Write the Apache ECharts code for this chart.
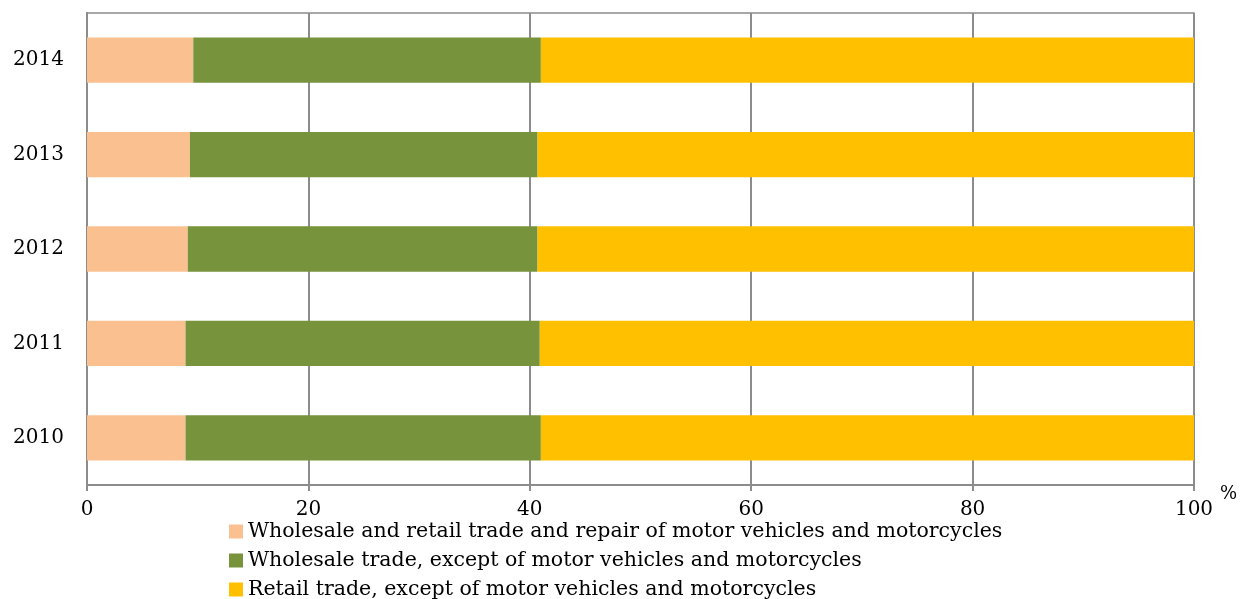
<!DOCTYPE html>
<html><head><meta charset="utf-8">
<script src="https://cdn.jsdelivr.net/npm/echarts@6/dist/echarts.min.js"></script>
<style>html,body{margin:0;padding:0;background:#fff}#c{width:1241px;height:599px}</style>
</head><body><div id="c"></div>
<script>
const years = ['2010', '2011', '2012', '2013', '2014'];
const seriesNames = [
  'Wholesale and retail trade and repair of motor vehicles and motorcycles',
  'Wholesale trade, except of motor vehicles and motorcycles',
  'Retail trade, except of motor vehicles and motorcycles'
];
const repairMotor = [8.9, 8.9, 9.1, 9.3, 9.6];
const wholesale = [32.1, 32.0, 31.6, 31.4, 31.4];
const retail = [59.0, 59.1, 59.3, 59.3, 59.0];
const xTicks = [0, 20, 40, 60, 80, 100];
const colors = ['#FAC090', '#77933C', '#FFC000'];

const font = 'DejaVu Serif';
const chart = echarts.init(document.getElementById('c'), null, {renderer: 'canvas'});
const values = [repairMotor, wholesale, retail];
chart.setOption({
  animation: false,
  color: colors,
  grid: {left: 87, right: 47, top: 13, bottom: 114, show: true, borderColor: '#8c8c8c', borderWidth: 1.5, containLabel: false},
  xAxis: {
    type: 'value', min: xTicks[0], max: xTicks[xTicks.length - 1], interval: 20,
    name: '%', nameLocation: 'end', nameGap: 26,
    nameTextStyle: {fontFamily: font, fontSize: 18, color: '#000', verticalAlign: 'top'},
    axisLine: {show: true, lineStyle: {color: '#8c8c8c', width: 2}},
    axisTick: {show: true, length: 6, lineStyle: {color: '#8c8c8c', width: 2}},
    axisLabel: {fontFamily: font, fontSize: 20, color: '#000', margin: 15},
    splitLine: {show: true, lineStyle: {color: '#8c8c8c', width: 2}}
  },
  yAxis: {
    type: 'category', data: years,
    axisLine: {show: true, lineStyle: {color: '#8c8c8c', width: 2}},
    axisTick: {show: false},
    axisLabel: {fontFamily: font, fontSize: 20, color: '#000', margin: 23},
    splitLine: {show: false}
  },
  legend: {
    orient: 'vertical', left: 229, top: 521, height: 100, padding: 0,
    itemWidth: 14, itemHeight: 14, itemGap: 8,
    icon: 'rect',
    textStyle: {fontFamily: font, fontSize: 20.5, lineHeight: 20, color: '#000'},
    data: seriesNames
  },
  series: seriesNames.map((n, i) => ({
    name: n, type: 'bar', stack: 'total', barWidth: '48%',
    data: values[i],
    itemStyle: {color: colors[i]}
  }))
});
</script></body></html>
